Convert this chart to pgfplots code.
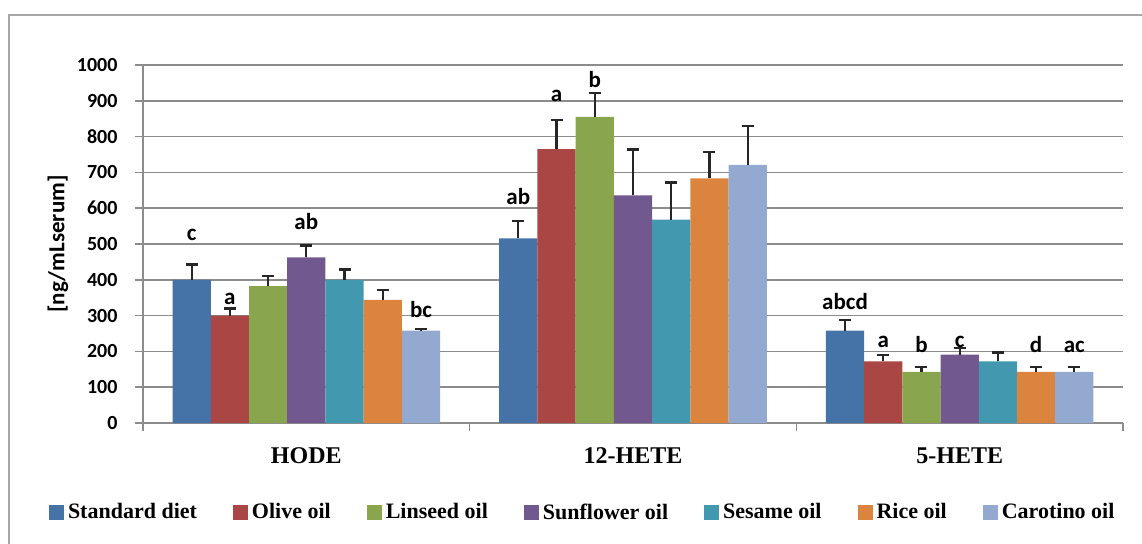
\documentclass[border=0pt]{standalone}
\usepackage{pgfplots}
\pgfplotsset{compat=1.18}
\usepackage{fontspec}
\newfontfamily\carlito{Carlito}
\newfontfamily\serifb{Liberation Serif}

\definecolor{cStd}{HTML}{4572A7}
\definecolor{cOlive}{HTML}{AA4643}
\definecolor{cLin}{HTML}{89A54E}
\definecolor{cSun}{HTML}{71588F}
\definecolor{cSes}{HTML}{4198AF}
\definecolor{cRice}{HTML}{DB843D}
\definecolor{cCaro}{HTML}{93A9CF}
\definecolor{axgray}{HTML}{8C8C8C}

\pgfplotsset{
  sqlegend/.style={legend image code/.code={\fill[##1] (0pt,-7.5pt) rectangle (15pt,7.5pt);}},
  oilbar/.style={fill=#1, draw=none, sqlegend,
    error bars/.cd, y dir=plus, y explicit,
    error bar style={line width=2.2pt, black!85},
    error mark options={rotate=90, line width=2.2pt, mark size=6pt, black!85}},
}

\tikzset{lett/.style={font=\carlito\bfseries\fontsize{23}{27}\selectfont, anchor=base, inner sep=0pt}}

\begin{document}
\begin{tikzpicture}
\useasboundingbox (0pt,0pt) rectangle (1142pt,-543pt);
% outer frame
\draw[color=black!35, line width=1.5pt] (9pt,-560pt) -- (9pt,-15pt) -- (1160pt,-15pt);
\begin{axis}[
  at={(143pt,-423pt)}, anchor=south west,
  scale only axis, width=980pt, height=358pt,
  xmin=-0.5, xmax=2.5, ymin=0, ymax=1000,
  ytick distance=100,
  axis lines*=left,
  axis line style={axgray, line width=1.5pt},
  tick align=outside,
  major tick length=8pt,
  tick style={axgray, line width=1.5pt},
  ymajorgrids,
  grid style={axgray, line width=1.5pt},
  xtick={-0.5,0.5,1.5,2.5}, xticklabels={},
  extra x ticks={0,1,2},
  extra x tick labels={HODE,12-HETE,5-HETE},
  extra x tick style={major tick length=0pt, grid=none},
  xticklabel style={font=\serifb\bfseries\fontsize{24}{28}\selectfont, yshift=-21pt},
  yticklabel style={font=\carlito\bfseries\fontsize{20}{24}\selectfont, xshift=-14pt},
  /pgf/number format/assume math mode=true,
  /pgf/number format/set thousands separator={},
  ylabel={[ng/mLserum]},
  ylabel style={font=\carlito\bfseries\fontsize{23}{27}\selectfont, at={(axis description cs:-0.0867,0.5)}, anchor=center},
  ybar, bar width=38.2pt, bar shift=0pt,
  legend columns=7,
  legend style={at={(axis description cs:-0.0959,-0.2486)}, anchor=west, draw=none, fill=none,
    font=\serifb\bfseries\fontsize{22}{26}\selectfont,
    inner sep=0pt, outer sep=0pt,
    nodes={inner sep=0pt, outer sep=0pt},
    /tikz/every odd column/.append style={column sep=4pt},
    /tikz/every even column/.append style={column sep=36pt}},
  clip=false,
]
\addplot[oilbar=cStd] coordinates {(-0.351,400) +- (0,43) (0.649,516) +- (0,48) (1.649,258) +- (0,29)};
\addplot[oilbar=cOlive] coordinates {(-0.234,300) +- (0,20) (0.766,765) +- (0,81) (1.766,172) +- (0,19)};
\addplot[oilbar=cLin] coordinates {(-0.117,382) +- (0,28) (0.883,855) +- (0,67) (1.883,143) +- (0,14)};
\addplot[oilbar=cSun] coordinates {(0,463) +- (0,33) (1,636) +- (0,128) (2,191) +- (0,18)};
\addplot[oilbar=cSes] coordinates {(0.117,400) +- (0,29) (1.117,568) +- (0,104) (2.117,172) +- (0,25)};
\addplot[oilbar=cRice] coordinates {(0.234,344) +- (0,28) (1.234,683) +- (0,75) (2.234,143) +- (0,14)};
\addplot[oilbar=cCaro] coordinates {(0.351,258) +- (0,5) (1.351,721) +- (0,108) (2.351,143) +- (0,14)};
\legend{Standard diet, Olive oil, Linseed oil, Sunflower oil, Sesame oil, Rice oil, Carotino oil}

% significance letters
\node[lett] at (axis cs:-0.351,510) {c};
\node[lett] at (axis cs:-0.234,330) {a};
\node[lett] at (axis cs:0,540) {ab};
\node[lett] at (axis cs:0.351,296) {bc};
\node[lett] at (axis cs:0.649,610) {ab};
\node[lett] at (axis cs:0.766,897) {a};
\node[lett] at (axis cs:0.883,936) {b};
\node[lett] at (axis cs:1.649,316) {abcd};
\node[lett] at (axis cs:1.766,210) {a};
\node[lett] at (axis cs:1.883,196) {b};
\node[lett] at (axis cs:2,212) {c};
\node[lett] at (axis cs:2.234,198) {d};
\node[lett] at (axis cs:2.351,198) {ac};
\end{axis}
\end{tikzpicture}
\end{document}
